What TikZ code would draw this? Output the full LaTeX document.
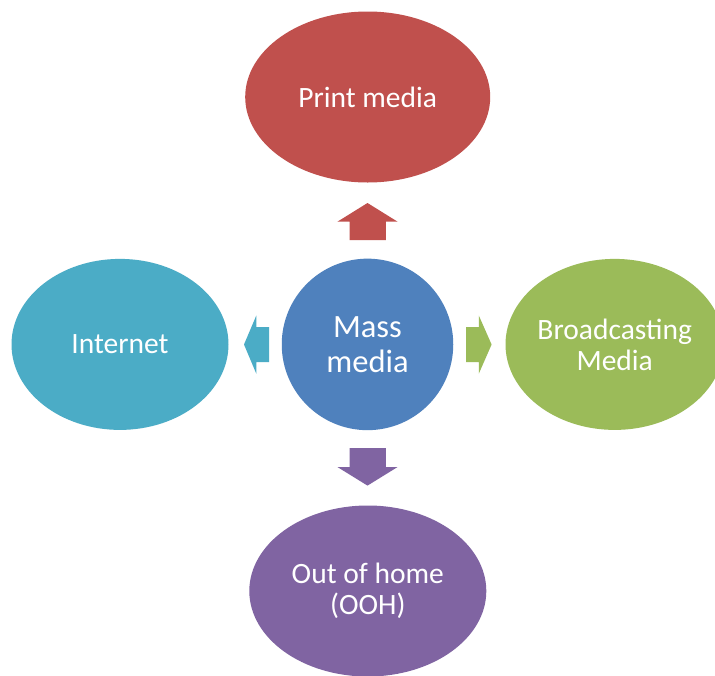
\documentclass[tikz,border=0pt]{standalone}
\usepackage{fontspec}
\setmainfont{Carlito}
\usetikzlibrary{shapes.geometric}
\definecolor{cRed}{HTML}{C0504D}
\definecolor{cBlue}{HTML}{4F81BD}
\definecolor{cGreen}{HTML}{9BBB59}
\definecolor{cPurple}{HTML}{8064A2}
\definecolor{cCyan}{HTML}{4BACC6}
\tikzset{
  blob/.style={ellipse, inner sep=0pt, text=white, align=center,
    font=\fontsize{29.5}{31}\selectfont}
}
\begin{document}
\begin{tikzpicture}[x=1pt,y=-1pt]
\clip (0,0) rectangle (715,675);
\fill[white] (0,0) rectangle (715,675);
% outer ellipses
\node[blob, fill=cRed, minimum width=245pt, minimum height=171pt] (print) at (367.7,97) {Print media};
\node[blob, fill=cCyan, minimum width=217pt, minimum height=171pt] (internet) at (120,344.4) {Internet};
\node[blob, fill=cGreen, minimum width=217pt, minimum height=171pt] (broad) at (614.7,344.4) {Broadcasting\\Media};
\node[blob, fill=cPurple, minimum width=237pt, minimum height=171pt] (ooh) at (367.8,591) {Out of home\\(OOH)};
% center
\node[circle, inner sep=0pt, minimum size=171.5pt, fill=cBlue, text=white, align=center,
  font=\fontsize{32.5}{35}\selectfont] (mass) at (367.5,344.4) {Mass\\media};
% block arrows
\fill[cRed] (349.7,240) -- (349.7,221.7) -- (337.4,221.7) -- (367.5,203) -- (397.6,221.7) -- (385.8,221.7) -- (385.8,240) -- cycle;
\fill[cPurple] (349.7,448) -- (349.7,467) -- (337.4,467) -- (367.5,485.6) -- (397.6,467) -- (385.8,467) -- (385.8,448) -- cycle;
\fill[cCyan] (269,327) -- (256.3,327) -- (256.3,315.5) -- (244,344.5) -- (256.3,373.7) -- (256.3,362) -- (269,362) -- cycle;
\fill[cGreen] (466,327) -- (478.8,327) -- (478.8,315.5) -- (491.6,344.5) -- (478.8,373.7) -- (478.8,362) -- (466,362) -- cycle;
\end{tikzpicture}
\end{document}
